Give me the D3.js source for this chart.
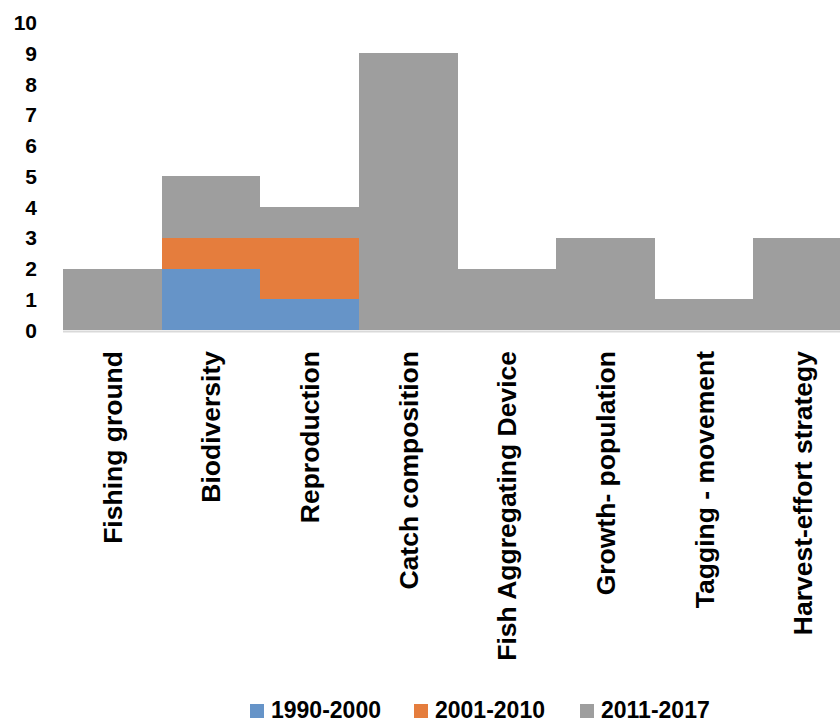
<!DOCTYPE html>
<html>
<head>
<meta charset="utf-8">
<script src="https://cdn.jsdelivr.net/npm/d3@7"></script>
<style>
  html, body { margin: 0; padding: 0; background: #fff; }
  svg { display: block; }
  text { font-family: "Liberation Sans", Arial, sans-serif; font-weight: bold; fill: #000; }
</style>
</head>
<body>
<div id="chart"></div>
<script>
const categories = ["Fishing ground", "Biodiversity", "Reproduction", "Catch composition",
  "Fish Aggregating Device", "Growth- population", "Tagging - movement", "Harvest-effort strategy"];
const seriesNames = ["1990-2000", "2001-2010", "2011-2017"];
const s1990_2000 = [0, 2, 1, 0, 0, 0, 0, 0];
const s2001_2010 = [0, 1, 2, 0, 0, 0, 0, 0];
const s2011_2017 = [2, 2, 1, 9, 2, 3, 1, 3];
const yTicks = [0, 1, 2, 3, 4, 5, 6, 7, 8, 9, 10];
const colors = ["#6694c8", "#e57d3d", "#9e9e9e"];

const W = 840, H = 724;
const svg = d3.select("#chart").append("svg").attr("width", W).attr("height", H);

const rows = categories.map((c, i) => ({
  cat: c,
  "1990-2000": s1990_2000[i],
  "2001-2010": s2001_2010[i],
  "2011-2017": s2011_2017[i]
}));
const stacked = d3.stack().keys(seriesNames)(rows);

const x = d3.scaleBand().domain(categories).range([63, 852]).padding(0);
const y = d3.scaleLinear().domain([0, 10]).range([330, 22.6]);

// bars
svg.append("g").attr("shape-rendering", "crispEdges")
  .selectAll("g").data(stacked).join("g")
  .attr("fill", (d, i) => colors[i])
  .selectAll("rect").data(d => d.filter(p => p[1] - p[0] > 0)).join("rect")
  .attr("x", d => Math.round(x(d.data.cat)))
  .attr("width", d => Math.round(x(d.data.cat) + x.bandwidth()) - Math.round(x(d.data.cat)))
  .attr("y", d => Math.round(y(d[1])))
  .attr("height", d => Math.round(y(d[0])) - Math.round(y(d[1])));

// x axis baseline
svg.append("line")
  .attr("x1", 63).attr("x2", 852)
  .attr("y1", y(0) + 1.5).attr("y2", y(0) + 1.5)
  .attr("stroke", "#d9d9d9").attr("stroke-width", 2);

// y tick labels
svg.append("g").selectAll("text").data(yTicks).join("text")
  .attr("x", 37)
  .attr("y", d => y(d))
  .attr("dy", "0.36em")
  .attr("text-anchor", "end")
  .style("font-size", "21px")
  .text(d => d);

// x category labels (rotated)
svg.append("g").selectAll("text").data(categories).join("text")
  .attr("transform", d => `translate(${x(d) + x.bandwidth() / 2},351) rotate(-90)`)
  .attr("text-anchor", "end")
  .attr("dy", "0.36em")
  .style("font-size", "26.5px")
  .text(d => d);

// legend
const legendX = [250, 414, 580];
const lg = svg.append("g").selectAll("g").data(seriesNames).join("g")
  .attr("transform", (d, i) => `translate(${legendX[i]},710)`);
lg.append("rect").attr("x", 0).attr("y", -6).attr("width", 14).attr("height", 14)
  .attr("fill", (d, i) => colors[i]);
lg.append("text").attr("x", 21).attr("y", 0).attr("dy", "0.36em")
  .style("font-size", "23px").text(d => d);
</script>
</body>
</html>
